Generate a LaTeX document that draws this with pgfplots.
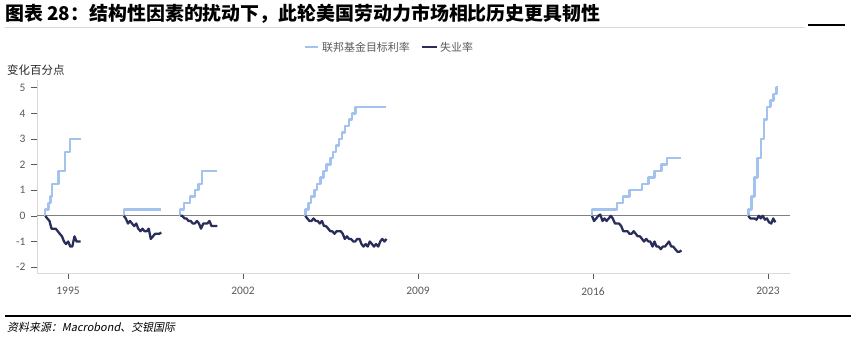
\documentclass[border=0pt]{standalone}
\usepackage{pgfplots}
\pgfplotsset{compat=1.18}
\usepackage{fontspec}
\setmainfont{Carlito}
\newfontfamily\cjk{Noto Sans CJK SC}
\newfontfamily\cjki{Noto Sans CJK SC}[FakeSlant=0.2]
\definecolor{fed}{RGB}{164,194,238}
\definecolor{unemp}{RGB}{40,45,90}
\definecolor{tickc}{RGB}{89,89,89}
\definecolor{axl}{RGB}{217,217,217}
\definecolor{zl}{RGB}{128,128,128}
\begin{document}
\begin{tikzpicture}[x=1bp,y=1bp]
\path[use as bounding box] (0,0) rectangle (851,338);
\node[anchor=west, inner sep=0, font=\cjk\bfseries\fontsize{19}{22}\selectfont] at (5,324.5) {图表 28：结构性因素的扰动下，此轮美国劳动力市场相比历史更具韧性};
\draw[axl, line width=0.6] (5,311) -- (805,311);
\draw[black, line width=1.2] (808,313) -- (845,313);
\draw[fed, line width=3] (305,291) -- (318,291);
\node[anchor=west, inner sep=0, text=tickc, font=\cjk\fontsize{11}{12}\selectfont] at (322,291) {联邦基金目标利率};
\draw[unemp, line width=3] (422,291) -- (437,291);
\node[anchor=west, inner sep=0, text=tickc, font=\cjk\fontsize{11}{12}\selectfont] at (440,291) {失业率};
\node[anchor=west, inner sep=0, text=black!85, font=\cjk\fontsize{11.5}{12}\selectfont] at (7,268) {变化百分点};
\draw[black, line width=1.2] (5,22) -- (851,22);
\node[anchor=west, inner sep=0, font=\cjki\fontsize{11}{12}\selectfont] at (7,11) {资料来源：Macrobond、交银国际};
\begin{axis}[at={(37bp,65bp)}, anchor=south west, scale only axis,
  width=753bp, height=193bp,
  xmin=1993.76, xmax=2023.88, ymin=-2.23, ymax=5.3,
  axis x line=bottom, axis y line=left,
  axis line style={-, color=axl, line width=1},
  xtick={1995,2002,2009,2016,2023}, ytick={-2,-1,0,1,2,3,4,5},
  tick align=outside, major tick length=6bp,
  tick style={color=tickc, line width=0.6},
  ticklabel style={color=tickc, font=\fontsize{11.5}{12}\selectfont},
  xticklabel style={yshift=-5bp},
  yticklabel style={xshift=-2bp},
  /pgf/number format/.cd, 1000 sep={}, assume math mode=true,
  /pgfplots/.cd,
  every axis plot/.append style={line join=round},
  clip=false]
\addplot[zl, line width=1.2] coordinates {(1993.76,0)(2023.88,0)};
% Fed funds target changes
\addplot[fed, line width=2.5, const plot] coordinates {(1994.09,0)(1994.09,0.25)(1994.22,0.5)(1994.30,0.75)(1994.37,1.25)(1994.62,1.75)(1994.87,2.5)(1995.08,3.0)(1995.50,3.0)};
\addplot[fed, line width=2.5, const plot] coordinates {(1997.23,0)(1997.23,0.25)(1998.70,0.25)};
\addplot[fed, line width=2.5, const plot] coordinates {(1999.49,0)(1999.49,0.25)(1999.65,0.5)(1999.88,0.75)(2000.09,1.0)(2000.22,1.25)(2000.37,1.75)(2000.97,1.75)};
\addplot[fed, line width=2.5, const plot] coordinates {(2004.49,0)(2004.49,0.25)(2004.61,0.5)(2004.72,0.75)(2004.86,1.0)(2004.95,1.25)(2005.09,1.5)(2005.22,1.75)(2005.33,2.0)(2005.49,2.25)(2005.60,2.5)(2005.72,2.75)(2005.83,3.0)(2005.95,3.25)(2006.08,3.5)(2006.24,3.75)(2006.36,4.0)(2006.49,4.25)(2007.70,4.25)};
\addplot[fed, line width=2.5, const plot] coordinates {(2015.96,0)(2015.96,0.25)(2016.95,0.5)(2017.20,0.75)(2017.45,1.0)(2017.95,1.25)(2018.22,1.5)(2018.45,1.75)(2018.73,2.0)(2018.96,2.25)(2019.50,2.25)};
\addplot[fed, line width=2.5, const plot] coordinates {(2022.21,0)(2022.21,0.25)(2022.34,0.75)(2022.46,1.5)(2022.57,2.25)(2022.72,3.0)(2022.84,3.75)(2022.95,4.25)(2023.09,4.5)(2023.22,4.75)(2023.34,5.0)(2023.36,5.0)};
% Unemployment changes
\addplot[unemp, line width=2.3] coordinates {(1994.09,0)(1994.17,-0.1)(1994.26,-0.2)(1994.34,-0.5)(1994.42,-0.5)(1994.51,-0.5)(1994.59,-0.6)(1994.67,-0.7)(1994.76,-0.8)(1994.84,-1.0)(1994.92,-1.1)(1995.01,-1.0)(1995.09,-1.2)(1995.17,-1.2)(1995.26,-0.8)(1995.34,-1.0)(1995.42,-1.0)(1995.50,-1.0)};
\addplot[unemp, line width=2.3] coordinates {(1997.23,0)(1997.31,-0.1)(1997.40,-0.3)(1997.48,-0.2)(1997.56,-0.3)(1997.65,-0.4)(1997.73,-0.3)(1997.81,-0.5)(1997.90,-0.6)(1997.98,-0.5)(1998.06,-0.6)(1998.15,-0.6)(1998.23,-0.5)(1998.31,-0.9)(1998.40,-0.8)(1998.48,-0.7)(1998.56,-0.7)(1998.65,-0.7)(1998.73,-0.65)};
\addplot[unemp, line width=2.3] coordinates {(1999.49,0)(1999.57,0)(1999.66,-0.1)(1999.74,-0.1)(1999.82,-0.2)(1999.91,-0.2)(1999.99,-0.3)(2000.07,-0.3)(2000.16,-0.2)(2000.24,-0.3)(2000.32,-0.5)(2000.41,-0.3)(2000.49,-0.3)(2000.57,-0.3)(2000.66,-0.2)(2000.74,-0.4)(2000.82,-0.4)(2000.91,-0.4)(2000.97,-0.4)};
\addplot[unemp, line width=2.3] coordinates {(2004.49,0)(2004.57,-0.1)(2004.66,-0.2)(2004.74,-0.2)(2004.82,-0.1)(2004.91,-0.2)(2004.99,-0.2)(2005.07,-0.3)(2005.16,-0.2)(2005.24,-0.4)(2005.32,-0.4)(2005.41,-0.5)(2005.49,-0.6)(2005.57,-0.6)(2005.66,-0.7)(2005.74,-0.6)(2005.82,-0.6)(2005.91,-0.6)(2005.99,-0.7)(2006.07,-0.9)(2006.16,-0.8)(2006.24,-0.9)(2006.32,-0.9)(2006.41,-1.0)(2006.49,-1.0)(2006.57,-0.9)(2006.66,-0.9)(2006.74,-1.1)(2006.82,-1.2)(2006.91,-1.1)(2006.99,-1.2)(2007.07,-1.0)(2007.16,-1.1)(2007.24,-1.2)(2007.32,-1.1)(2007.41,-1.2)(2007.49,-1.0)(2007.57,-0.9)(2007.66,-1.0)(2007.74,-0.9)};
\addplot[unemp, line width=2.3] coordinates {(2015.96,0)(2016.04,-0.2)(2016.13,-0.1)(2016.21,0)(2016.29,0.05)(2016.38,-0.2)(2016.46,-0.1)(2016.54,-0.2)(2016.63,-0.1)(2016.71,0)(2016.79,-0.1)(2016.88,-0.3)(2016.96,-0.3)(2017.04,-0.3)(2017.13,-0.4)(2017.21,-0.6)(2017.29,-0.6)(2017.38,-0.6)(2017.46,-0.7)(2017.54,-0.7)(2017.63,-0.6)(2017.71,-0.7)(2017.79,-0.8)(2017.88,-0.8)(2017.96,-0.9)(2018.04,-1.0)(2018.13,-0.9)(2018.21,-1.0)(2018.29,-1.0)(2018.38,-1.2)(2018.46,-1.0)(2018.54,-1.2)(2018.63,-1.2)(2018.71,-1.3)(2018.79,-1.2)(2018.88,-1.2)(2018.96,-1.1)(2019.04,-1.0)(2019.13,-1.2)(2019.21,-1.2)(2019.29,-1.3)(2019.38,-1.4)(2019.46,-1.4)(2019.54,-1.35)};
\addplot[unemp, line width=2.3] coordinates {(2022.21,0)(2022.29,-0.1)(2022.38,-0.1)(2022.46,-0.1)(2022.54,-0.15)(2022.63,0)(2022.71,-0.1)(2022.79,0)(2022.88,-0.15)(2022.96,-0.1)(2023.04,-0.25)(2023.13,-0.3)(2023.21,-0.1)(2023.29,-0.25)};
\end{axis}
\end{tikzpicture}
\end{document}
